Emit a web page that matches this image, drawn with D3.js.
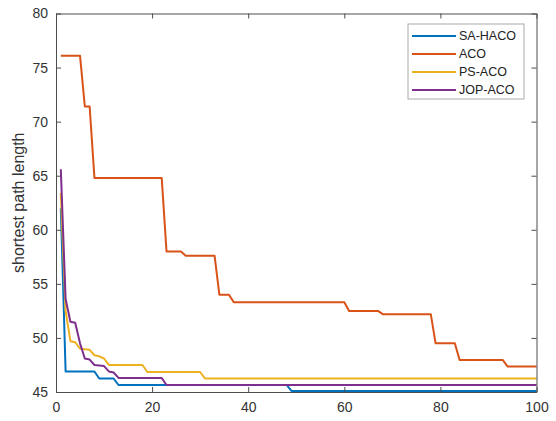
<!DOCTYPE html>
<html>
<head>
<meta charset="utf-8">
<script src="https://cdn.jsdelivr.net/npm/d3@7"></script>
<style>
  body { margin: 0; background: #fff; }
  svg { display: block; font-family: Arial, "Liberation Sans", sans-serif; }
</style>
</head>
<body>
<div id="chart"></div>
<script>
// series names and colours (matlab defaults)
const seriesNames = ["SA-HACO", "ACO", "PS-ACO", "JOP-ACO"];
const seriesColors = ["#0072BD", "#D95319", "#EDB120", "#7E2F8E"];

// vertices [iteration, length]
const saHaco = [[1, 62], [2, 46.9], [8, 46.9], [9, 46.25], [12, 46.25], [13, 45.65], [48, 45.65], [49, 45.1], [100, 45.1]];
const aco = [[1, 76.1], [5, 76.1], [6, 71.4], [7, 71.4], [8, 64.8], [22, 64.8], [23, 58.0], [26, 58.0], [27, 57.6], [33, 57.6],
  [34, 54.0], [36, 54.0], [37, 53.3], [60, 53.3], [61, 52.5], [67, 52.5], [68, 52.2], [78, 52.2], [79, 49.5], [83, 49.5],
  [84, 47.95], [93, 47.95], [94, 47.35], [100, 47.35]];
const psAco = [[1, 63.4], [2, 52.5], [3, 49.7], [4, 49.6], [5, 49.0], [7, 48.9], [8, 48.4], [9, 48.3], [10, 48.1], [11, 47.5],
  [18, 47.5], [19, 46.85], [30, 46.85], [31, 46.25], [100, 46.25]];
const jopAco = [[1, 65.6], [2, 53.6], [3, 51.5], [4, 51.4], [5, 49.5], [6, 48.1], [7, 48.0], [8, 47.5], [10, 47.4], [11, 46.9],
  [12, 46.8], [13, 46.3], [22, 46.3], [23, 45.65], [100, 45.65]];
const allSeries = [saHaco, aco, psAco, jopAco];

const xTicks = [0, 20, 40, 60, 80, 100];
const yTicks = [45, 50, 55, 60, 65, 70, 75, 80];

const width = 556, height = 421;
const margin = { top: 13.5, right: 19.5, bottom: 29, left: 56 };

const svg = d3.select("#chart").append("svg")
  .attr("width", width)
  .attr("height", height);

const x = d3.scaleLinear().domain([0, 100]).range([margin.left, width - margin.right]);
const y = d3.scaleLinear().domain([45, 80]).range([height - margin.bottom, margin.top]);

const axisColor = "#4d4d4d";
const tickLen = 5;

// lines
const line = d3.line().x(d => x(d[0])).y(d => y(d[1]));
svg.append("g").selectAll("path")
  .data(allSeries)
  .enter().append("path")
  .attr("d", line)
  .attr("fill", "none")
  .attr("stroke", (d, i) => seriesColors[i])
  .attr("stroke-width", 2)
  .attr("stroke-linejoin", "round");

// axes, box with inward ticks
function styleAxis(g) {
  g.select(".domain").attr("stroke", axisColor);
  g.selectAll(".tick line").attr("stroke", axisColor);
  g.selectAll(".tick text").attr("fill", "#333").attr("font-size", 14);
}

svg.append("g")
  .attr("transform", `translate(0,${y(45)})`)
  .call(d3.axisBottom(x).tickValues(xTicks).tickSizeInner(-tickLen).tickSizeOuter(0).tickPadding(10))
  .call(styleAxis);

svg.append("g")
  .attr("transform", `translate(0,${y(80)})`)
  .call(d3.axisTop(x).tickValues(xTicks).tickSizeInner(-tickLen).tickSizeOuter(0).tickFormat(""))
  .call(styleAxis);

svg.append("g")
  .attr("transform", `translate(${x(0)},0)`)
  .call(d3.axisLeft(y).tickValues(yTicks).tickSizeInner(-tickLen).tickSizeOuter(0).tickPadding(8))
  .call(styleAxis);

svg.append("g")
  .attr("transform", `translate(${x(100)},0)`)
  .call(d3.axisRight(y).tickValues(yTicks).tickSizeInner(-tickLen).tickSizeOuter(0).tickFormat(""))
  .call(styleAxis);

// y label
svg.append("text")
  .attr("transform", `translate(24,${(y(45) + y(80)) / 2}) rotate(-90)`)
  .attr("text-anchor", "middle")
  .attr("font-size", 16)
  .attr("fill", "#333")
  .text("shortest path length");

// legend
const legend = svg.append("g").attr("transform", "translate(408,24)");
legend.append("rect")
  .attr("width", 116).attr("height", 75)
  .attr("fill", "#fff")
  .attr("stroke", "#aaa")
  .attr("stroke-width", 1);

const items = legend.selectAll("g.item")
  .data(seriesNames)
  .enter().append("g")
  .attr("class", "item")
  .attr("transform", (d, i) => `translate(0,${12 + i * 18})`);

items.append("line")
  .attr("x1", 4).attr("x2", 48)
  .attr("stroke", (d, i) => seriesColors[i])
  .attr("stroke-width", 2);

items.append("text")
  .attr("x", 51)
  .attr("dy", "0.35em")
  .attr("font-size", 12.5)
  .attr("fill", "#222")
  .text(d => d);
</script>
</body>
</html>
